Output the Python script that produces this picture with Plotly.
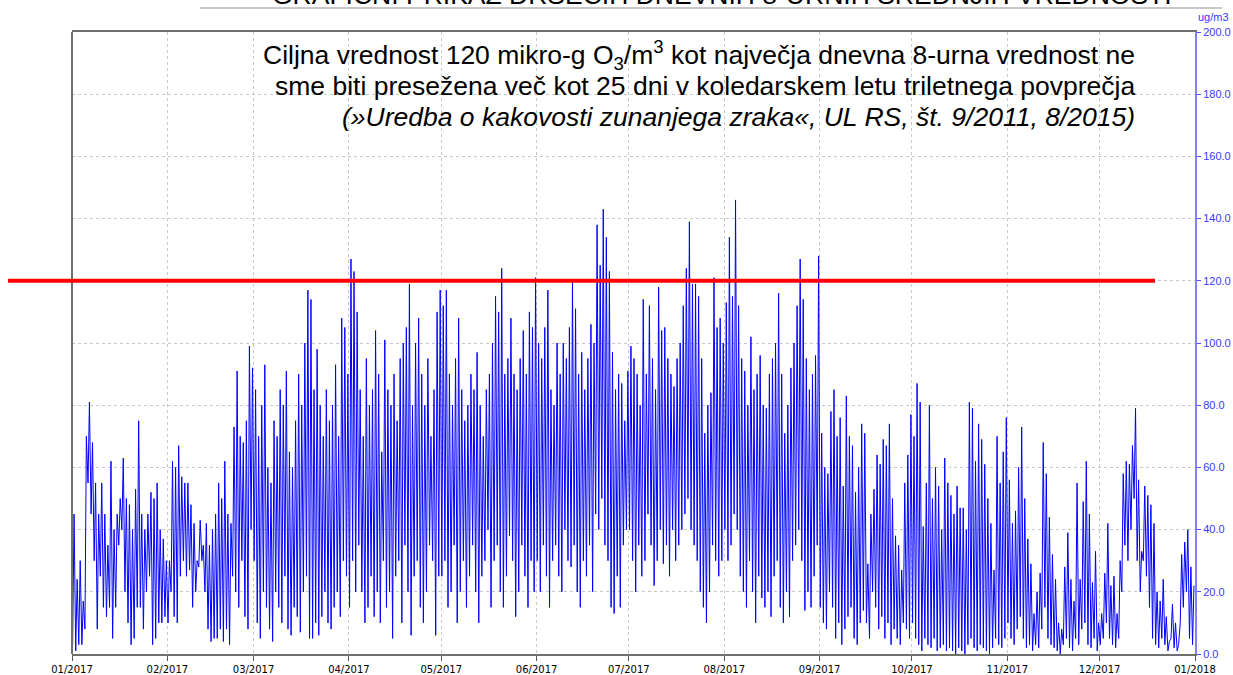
import datetime as dt
import plotly.graph_objects as go

# Daily maximum / minimum of the running 8-hour O3 means (ug/m3)
jan_max = [45,24,30,17,70,81,68,55,45,55,45,35,62,40,45,50,63,50,48,40,53,75,45,40,45,52,50,55,40,37,30]
jan_min = [3,1,3,3,8,55,45,30,8,25,15,12,15,5,15,35,40,20,10,3,5,15,15,8,20,25,3,5,10,10,12]
feb_max = [30,62,60,67,57,55,55,48,42,30,43,35,42,35,40,45,55,50,62,45,42,73,91,70,68,75,99,92]
feb_min = [10,20,12,10,25,30,25,27,15,20,28,30,20,8,4,5,5,8,4,8,3,25,20,15,30,12,8,40]
mar_max = [85,70,80,93,60,55,75,70,85,80,91,65,60,75,90,80,100,117,114,85,98,80,70,85,75,80,93,70,108,105,90]
mar_min = [30,10,5,20,15,8,4,20,15,10,25,8,6,15,12,7,20,25,5,5,10,6,12,20,10,8,15,20,12,30,25]
apr_max = [127,123,110,85,70,95,80,85,104,90,65,101,85,80,90,75,95,100,105,119,80,100,108,90,80,95,70,85,110,117]
apr_min = [15,30,20,35,20,10,15,25,12,20,10,30,15,20,5,25,30,10,35,20,6,25,30,15,10,20,35,30,6,25]
may_max = [112,117,90,80,95,108,85,75,80,90,85,97,80,70,85,90,100,115,110,124,90,95,108,90,85,95,104,90,110,105,121]
may_min = [25,30,15,20,35,10,20,30,15,25,35,20,10,25,30,40,15,30,35,20,15,25,38,30,12,20,35,25,15,30,20]
jun_max = [100,95,105,117,85,80,100,90,100,95,105,120,111,90,97,85,95,106,100,138,125,143,134,123,97,85,90,87,75,91]
jun_min = [30,20,35,25,15,30,35,25,20,40,30,28,35,20,15,30,25,35,20,45,40,50,35,30,15,13,25,15,35,40]
jul_max = [99,95,90,80,114,90,112,95,85,118,104,105,95,90,86,95,100,112,124,139,119,119,115,95,71,80,84,121,105,108,100]
jul_min = [40,30,20,35,25,30,45,35,22,30,40,29,35,25,40,30,35,40,45,50,40,35,30,20,15,10,20,35,30,25,30]
aug_max = [113,134,115,146,112,95,91,80,102,85,90,96,80,79,90,95,100,116,90,71,80,92,100,112,127,114,95,85,90,96,128]
aug_min = [40,30,35,45,40,25,20,15,30,20,10,25,18,15,20,12,25,30,15,10,20,12,30,35,40,30,14,20,15,25,35]
sep_max = [71,60,58,78,85,70,76,54,83,70,67,52,60,74,71,29,45,53,64,61,69,67,74,50,38,35,27,55,64,77]
sep_min = [15,10,8,20,15,5,10,3,8,12,15,5,3,10,14,10,5,20,15,8,12,5,10,3,8,5,3,10,8,5]
oct_max = [70,87,81,41,55,80,50,60,54,40,63,55,51,45,54,47,47,40,81,79,62,74,69,61,50,42,27,70,55,65,76]
oct_min = [10,5,3,1,5,3,2,5,1,2,3,1,2,1,0,2,1,0,3,5,2,1,3,2,1,0,2,5,3,2,5]
nov_max = [56,42,46,60,73,50,37,29,13,20,26,68,58,44,32,24,10,8,28,39,24,17,55,24,49,62,45,23,33,10]
nov_min = [10,5,3,8,12,5,2,3,1,3,2,8,15,5,3,2,1,0,3,5,2,1,5,3,8,10,3,2,5,1]
dec_max = [13,26,42,22,25,13,30,58,62,61,67,79,56,33,54,51,48,42,20,17,24,12,4,16,10,3,32,36,40,28,22]
dec_min = [3,5,10,5,3,2,5,20,35,30,40,50,30,20,30,25,15,5,3,2,5,3,1,5,2,1,10,15,20,5,3]

month_ticks = ["2017-01-01","2017-02-01","2017-03-01","2017-04-01","2017-05-01","2017-06-01",
               "2017-07-01","2017-08-01","2017-09-01","2017-10-01","2017-11-01","2017-12-01","2018-01-01"]
month_labels = ["01/2017","02/2017","03/2017","04/2017","05/2017","06/2017",
                "07/2017","08/2017","09/2017","10/2017","11/2017","12/2017","01/2018"]
y_ticks = [0,20,40,60,80,100,120,140,160,180,200]
target_value = 120

maxes = [jan_max,feb_max,mar_max,apr_max,may_max,jun_max,jul_max,aug_max,sep_max,oct_max,nov_max,dec_max]
mins = [jan_min,feb_min,mar_min,apr_min,may_min,jun_min,jul_min,aug_min,sep_min,oct_min,nov_min,dec_min]

xs, ys = [], []
for m, (mx, mn) in enumerate(zip(maxes, mins), start=1):
    for d, (hi, lo) in enumerate(zip(mx, mn), start=1):
        xs.append(dt.datetime(2017, m, d, 5)); ys.append(lo)
        xs.append(dt.datetime(2017, m, d, 16)); ys.append(hi)

L, R, T, B = 72, 38, 32, 21
PW, PH = 1233 - L - R, 675 - T - B


def px(xp):
    return (xp - L) / PW


def py(yp):
    return (675 - B - yp) / PH


fig = go.Figure()
fig.add_trace(go.Scatter(x=xs, y=ys, mode="lines",
                         line=dict(color="#0000ff", width=1), hoverinfo="skip", showlegend=False))

fig.update_layout(
    width=1233, height=675,
    margin=dict(l=L, r=R, t=T, b=B, autoexpand=False),
    paper_bgcolor="white", plot_bgcolor="white",
    font=dict(family="DejaVu Sans", size=10, color="black"),
    xaxis=dict(type="date", range=["2017-01-01", "2018-01-01"], automargin=False,
               tickvals=month_ticks, ticktext=month_labels,
               ticks="outside", ticklen=5, tickcolor="#555555",
               showline=True, linecolor="#707070", linewidth=2, mirror=True,
               showgrid=True, gridcolor="#c8c8c8", griddash="dot", gridwidth=1,
               tickfont=dict(family="DejaVu Sans", size=10, color="black"), zeroline=False),
    yaxis=dict(side="right", range=[0, 200], tickvals=y_ticks, tickformat=".1f", automargin=False,
               ticks="outside", ticklen=4, tickcolor="#5050ff",
               showline=True, linecolor="#8080ff", linewidth=2,
               showgrid=True, gridcolor="#c8c8c8", griddash="dot", gridwidth=1,
               tickfont=dict(family="Liberation Sans", size=11, color="#3838ff"), zeroline=False),
)

# left border of the plot frame
fig.add_shape(type="line", xref="paper", yref="paper", x0=0, x1=0, y0=0, y1=1,
              line=dict(color="#707070", width=2))
# target value line (120 ug/m3)
fig.add_shape(type="line", xref="paper", yref="paper", x0=px(8), x1=px(1155),
              y0=target_value / 200, y1=target_value / 200, line=dict(color="#ff0000", width=4), layer="above")
# thin rule below the (cut) heading
fig.add_shape(type="line", xref="paper", yref="paper", x0=px(200), x1=px(1222),
              y0=py(8), y1=py(8), line=dict(color="#909090", width=1))

fig.add_annotation(xref="paper", yref="paper", x=px(722), y=py(12), xanchor="center", yanchor="bottom",
                   text="GRAFIČNI PRIKAZ DRSEČIH DNEVNIH 8-URNIH SREDNJIH VREDNOSTI",
                   showarrow=False, font=dict(family="Liberation Sans", size=26.5, color="black"))
fig.add_annotation(xref="paper", yref="paper", x=px(1213), y=py(17), xanchor="center", yanchor="middle",
                   text="ug/m3", showarrow=False, font=dict(family="Liberation Sans", size=11, color="#3838ff"))

note_lines = [
    "Ciljna vrednost 120 mikro-g O<sub>3</sub>/m<sup>3</sup> kot največja dnevna 8-urna vrednost ne",
    "sme biti presežena več kot 25 dni v koledarskem letu triletnega povprečja",
    "<i>(»Uredba o kakovosti zunanjega zraka«, UL RS, št. 9/2011, 8/2015)</i>",
]
note_y = [55, 86, 117]
for txt, yy in zip(note_lines, note_y):
    fig.add_annotation(xref="paper", yref="paper", x=px(1137), y=py(yy), xanchor="right", yanchor="middle",
                       align="right", showarrow=False, text=txt,
                       font=dict(family="Liberation Sans", size=26.5, color="black"))

fig.write_html("out.html", config={"displayModeBar": False},
               post_script="document.body.style.margin='0';document.body.style.overflow='hidden';")
